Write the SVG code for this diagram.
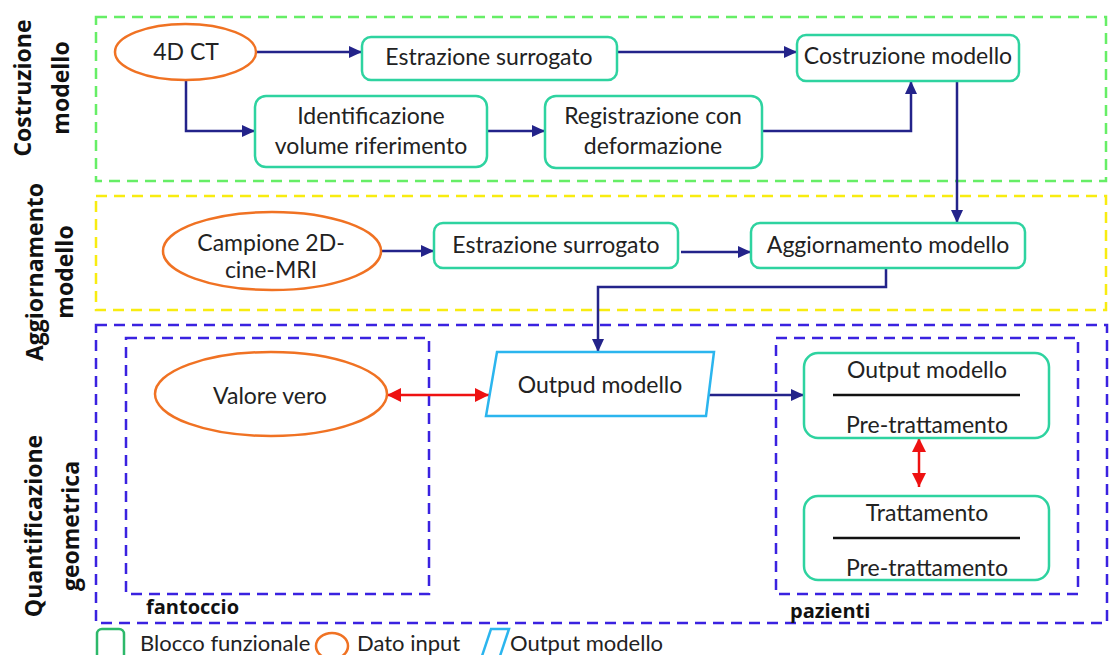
<svg xmlns="http://www.w3.org/2000/svg" width="1111" height="655" viewBox="0 0 1111 655">
<style>
text{font-family:Lato,"Open Sans","Liberation Sans",sans-serif;font-size:23px;fill:#222;text-anchor:middle}
.lbl{font-family:"Open Sans","Liberation Sans",sans-serif;font-weight:bold;font-size:23px;fill:#111}
.small{font-family:"Open Sans","Liberation Sans",sans-serif;font-weight:bold;font-size:20px;fill:#111;text-anchor:start}
.leg{text-anchor:start;font-size:22px}
.grp{fill:none;stroke-width:2.5;stroke-dasharray:11 7}
.node{fill:#fff;stroke:#2ED3A0;stroke-width:2.5}
.inp{fill:#fff;stroke:#F07223;stroke-width:2.5}
.out{fill:#fff;stroke:#2BB5EE;stroke-width:2.5}
.c{fill:none;stroke:#23238A;stroke-width:2.5}
.r{fill:none;stroke:#EE1111;stroke-width:2.5}
.sep{stroke:#111;stroke-width:2.5}
</style>
<defs>
<marker id="ah" markerUnits="userSpaceOnUse" markerWidth="14" markerHeight="12" refX="13" refY="6" orient="auto"><path d="M0,0 L13,6 L0,12 z" fill="#23238A"/></marker>
<marker id="rh" markerUnits="userSpaceOnUse" markerWidth="15" markerHeight="14" refX="14" refY="7" orient="auto-start-reverse"><path d="M0,0 L14,7 L0,14 z" fill="#EE1111"/></marker>
</defs>
<rect width="1111" height="655" fill="#fff"/>

<g id="groups">
<rect class="grp" x="96" y="17" width="1010" height="164" stroke="#66EE66"/>
<rect class="grp" x="96" y="196" width="1010" height="114" stroke="#F8EC10"/>
<rect class="grp" x="96" y="325" width="1011" height="298" stroke="#3A22E0"/>
<rect class="grp" x="126" y="338" width="303" height="256" stroke="#3A22E0"/>
<rect class="grp" x="776" y="338" width="302" height="256" stroke="#3A22E0"/>
<text class="small" x="146" y="614">fantoccio</text>
<text class="small" x="790" y="618">pazienti</text>
</g>

<g id="side-labels">
<text class="lbl" transform="translate(31,88) rotate(-90)">Costruzione</text>
<text class="lbl" transform="translate(69,88) rotate(-90)">modello</text>
<text class="lbl" transform="translate(43,272) rotate(-90)">Aggiornamento</text>
<text class="lbl" transform="translate(73,272) rotate(-90)">modello</text>
<text class="lbl" transform="translate(42,526) rotate(-90)">Quantificazione</text>
<text class="lbl" transform="translate(79,526) rotate(-90)">geometrica</text>
</g>

<g id="connectors">
<path class="c" d="M256,52 H362" marker-end="url(#ah)"/>
<path class="c" d="M186,80 V131 H255" marker-end="url(#ah)"/>
<path class="c" d="M487,131 H545" marker-end="url(#ah)"/>
<path class="c" d="M617,52 H797" marker-end="url(#ah)"/>
<path class="c" d="M762,131 H911 V81" marker-end="url(#ah)"/>
<path class="c" d="M957,81 V223" marker-end="url(#ah)"/>
<path class="c" d="M381,251 H434" marker-end="url(#ah)"/>
<path class="c" d="M681,252 H751" marker-end="url(#ah)"/>
<path class="c" d="M886,268 V287 H598 V352" marker-end="url(#ah)"/>
<path class="c" d="M707,395 H804" marker-end="url(#ah)"/>
<path class="r" d="M387,395 H489" marker-start="url(#rh)" marker-end="url(#rh)"/>
<path class="r" d="M919,438 V487" marker-start="url(#rh)" marker-end="url(#rh)"/>
</g>

<g id="n-4dct"><ellipse class="inp" cx="185.5" cy="52" rx="70.5" ry="28"/><text x="186" y="60">4D CT</text></g>
<g id="n-estr1"><rect class="node" x="362" y="37" width="255" height="43" rx="9"/><text x="489" y="65">Estrazione surrogato</text></g>
<g id="n-costr"><rect class="node" x="797" y="35" width="222" height="46" rx="9"/><text x="908" y="64">Costruzione modello</text></g>
<g id="n-ident"><rect class="node" x="255" y="96" width="232" height="71" rx="11"/><text x="371" y="124">Identificazione</text><text x="371" y="154">volume riferimento</text></g>
<g id="n-reg"><rect class="node" x="545" y="96" width="217" height="72" rx="11"/><text x="653" y="124">Registrazione con</text><text x="653" y="154">deformazione</text></g>

<g id="n-campione"><ellipse class="inp" cx="272" cy="251" rx="109" ry="39"/><text x="271" y="251">Campione 2D-</text><text x="271" y="278">cine-MRI</text></g>
<g id="n-estr2"><rect class="node" x="434" y="223" width="244" height="45" rx="9"/><text x="556" y="253">Estrazione surrogato</text></g>
<g id="n-aggio"><rect class="node" x="751" y="223" width="274" height="45" rx="9"/><text x="888" y="253">Aggiornamento modello</text></g>

<g id="n-valore"><ellipse class="inp" cx="271" cy="394" rx="116" ry="42"/><text x="270" y="404">Valore vero</text></g>
<g id="n-outpud"><path class="out" d="M497,352 H714 L706,416 H486 z"/><text x="600" y="393">Outpud modello</text></g>
<g id="n-ratio1"><rect class="node" x="804" y="353" width="245" height="85" rx="14"/><text x="927" y="378">Output modello</text><line class="sep" x1="833" y1="395" x2="1020" y2="395"/><text x="927" y="433">Pre-trattamento</text></g>
<g id="n-ratio2"><rect class="node" x="804" y="496" width="245" height="84" rx="14"/><text x="927" y="521">Trattamento</text><line class="sep" x1="833" y1="538" x2="1020" y2="538"/><text x="927" y="576">Pre-trattamento</text></g>

<g id="legend">
<rect x="97" y="629" width="27" height="34" rx="5" fill="#fff" stroke="#2DB86A" stroke-width="2.5"/>
<text class="leg" x="140" y="651">Blocco funzionale</text>
<ellipse cx="332" cy="646" rx="16" ry="13" fill="none" stroke="#F07223" stroke-width="2.5"/>
<text class="leg" x="357" y="651">Dato input</text>
<path d="M491,629 H509 L498,662 H480 z" fill="#fff" stroke="#2BB5EE" stroke-width="2.5"/>
<text class="leg" x="510" y="651">Output modello</text>
</g>
</svg>
